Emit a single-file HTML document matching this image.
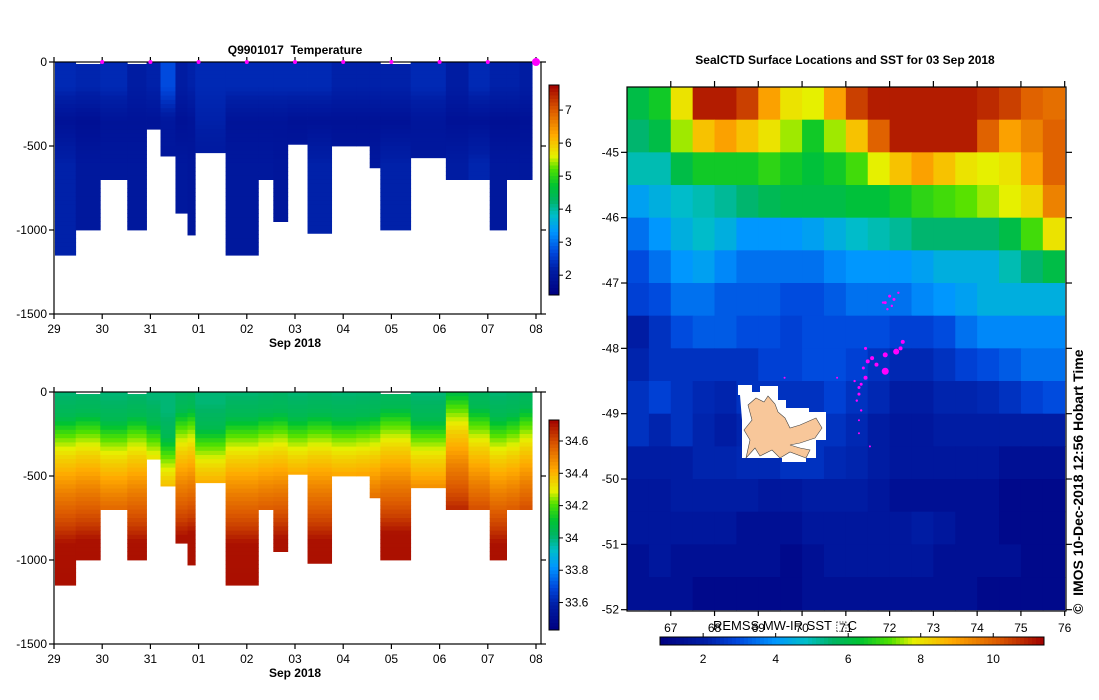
<!DOCTYPE html>
<html><head><meta charset="utf-8">
<style>
html,body{margin:0;padding:0;background:#fff;}
svg{display:block;font-family:"Liberation Sans",sans-serif;}
text{white-space:pre;}
</style></head>
<body>
<svg id="root" width="1099" height="700" viewBox="0 0 1099 700">
<rect width="1099" height="700" fill="#fff"/>
</svg>
<script>
// ---------- data ----------
const dayLabels = ["29","30","31","01","02","03","04","05","06","07","08"];
const colEdges = [0.02,0.45,0.96,1.52,1.92,2.21,2.52,2.77,2.93,3.56,4.24,4.55,4.85,5.26,5.76,6.27,6.55,6.77,7.40,8.13,8.60,9.04,9.39,9.66,9.92];
const colDepth = [1150,1000,700,1000,400,560,900,1030,540,1150,700,950,490,1020,500,500,630,1000,570,700,700,1000,700,700];
const colTopGap = [0,12,0,12,0,0,0,0,0,0,0,0,0,0,0,0,0,12,0,0,0,0,0,0];
const tempSurf = [2.3,2.25,2.3,2.1,2.2,2.7,2.1,2.2,2.3,2.3,2.3,2.3,2.3,2.3,2.2,2.2,2.2,2.2,2.3,2.1,2.3,2.2,2.2,2.1];
const tempMin = [1.85,1.8,1.9,1.9,1.9,2.0,1.85,1.9,2.2,1.9,1.9,1.9,1.85,1.85,1.85,1.85,1.85,1.85,1.95,1.85,1.85,1.8,1.8,1.85];
const tempDeep = [2.2,2.0,2.0,2.0,2.0,1.95,2.0,1.95,2.0,2.0,2.0,1.95,2.0,2.2,2.0,2.0,2.0,2.2,2.0,2.1,2.25,2.0,2.0,2.0];
const salShift = [0,20,-20,10,-30,-120,40,60,-60,0,20,30,0,20,0,10,20,60,-10,160,60,0,20,60];
const tempTicks = [2,3,4,5,6,7];
const salTicks = ["33.6","33.8","34","34.2","34.4","34.6"];
const depthTicks = [0,-500,-1000,-1500];
const salProfDepth = [0,150,250,400,600,800,900,2000];
const salProfVal = [34.0,34.05,34.2,34.35,34.5,34.62,34.7,34.72];
const sstLonTicks = [67,68,69,70,71,72,73,74,75,76];
const sstLatTicks = [-45,-46,-47,-48,-49,-50,-51,-52];
const sstBarTicks = [2,4,6,8,10];
const sstGrid = [
[6,6.5,8,11,11,10.5,9,8,7.8,9,10.5,11,11,11,11,11,10.8,10.5,10,9.8],
[5.5,6,7.5,8.5,9,8.5,8,7.5,6.5,7.5,8.5,10,11,11,11,11,10,9,9.5,10],
[5,5,6,6.5,6.5,6.5,6.8,6.5,6.2,6.5,7,7.8,8.5,9,8.5,8,7.8,8,9,10],
[4.2,4.5,4.8,5,5.2,5.5,5.8,6,6,6,6.2,6.2,6.5,6.8,7,7.2,7.5,7.8,8.2,9.5],
[3.5,4,4.5,4.8,4.5,4,4,4,4.2,4.5,4.8,5,5.2,5.5,5.5,5.5,5.5,6,7,8],
[3,3.5,4,4.2,3.8,3.5,3.5,3.5,3.5,3.8,4,4,4,4.2,4.5,4.5,4.5,5,5.5,6],
[2.8,3,3.5,3.5,3.2,3.2,3.2,3,3,3.2,3.5,3.5,3.5,3.8,4,4.2,4.5,4.5,4.5,4.5],
[2,2.5,3,3.2,3.2,3,3,2.8,3,3,3,3,2.8,2.8,3,3.5,3.8,3.8,3.8,3.8],
[2.2,2.5,2.5,2.5,2.5,2.5,2.8,2.8,3,3,2.8,2.5,2.3,2.3,2.5,2.8,3,3.2,3.5,3.5],
[2.5,2.8,2.5,2.3,2.2,2.5,2.5,2.5,2.5,2.8,2.5,2.3,2,2,2.2,2.2,2.3,2.5,2.8,3],
[2.5,2.2,2.5,2.2,2,2.2,2.3,2.3,2.5,2.5,2.3,2,1.8,1.8,2,2,2,2,2,2],
[2,2,2,2.2,2.2,2.3,2.3,2.5,2.5,2.3,2.2,2,1.8,1.8,1.8,1.8,1.8,1.5,1.5,1.5],
[1.8,1.8,2,2,2,2,1.8,1.8,2,2,2,1.8,1.5,1.5,1.5,1.5,1.5,1.2,1.2,1.2],
[1.8,1.8,1.8,1.8,1.8,1.5,1.5,1.5,1.8,1.8,1.8,1.8,1.8,2,1.8,1.5,1.5,1.2,1.2,1.2],
[1.5,1.8,1.5,1.5,1.5,1.5,1.5,1.2,1.5,1.8,1.8,1.8,1.8,1.8,1.5,1.5,1.5,1.5,1.2,1.2],
[1.5,1.5,1.5,1.2,1.2,1.2,1.2,1.2,1.5,1.5,1.5,1.5,1.5,1.5,1.5,1.5,1.2,1.2,1.2,1.2]];
const sealLon = [71.9,72.0,72.1,72.2,72.05,71.95,71.85,72.3,72.25,72.15,71.9,71.6,71.5,71.4,71.45,71.35,71.3,71.3,71.25,71.35,71.45,71.2,71.7,71.9,70.8,69.6,71.3,71.3,71.55];
const sealLat = [-47.3,-47.2,-47.25,-47.15,-47.35,-47.4,-47.3,-47.9,-48.0,-48.05,-48.1,-48.15,-48.2,-48.3,-48.45,-48.55,-48.6,-48.7,-48.8,-48.95,-48.0,-48.5,-48.25,-48.35,-48.45,-48.45,-49.1,-49.3,-49.5];
const sealSize = [1.5,1.5,1.5,1.2,1.2,1.2,1.2,2,2,3,2.5,2,2,1.5,2,1.5,1.5,1.5,1.2,1.2,1.5,1.2,2,3.5,1,1,1,1,1];

// ---------- helpers ----------
const NS="http://www.w3.org/2000/svg";
const root=document.getElementById('root');
function mk(tag,attrs,parent){const e=document.createElementNS(NS,tag);for(const k in attrs)e.setAttribute(k,attrs[k]);(parent||root).appendChild(e);return e;}
const stops=[[0,[0,0,128]],[0.12,[0,30,165]],[0.2,[0,70,220]],[0.3,[0,150,255]],[0.38,[0,190,200]],[0.45,[0,180,100]],[0.52,[0,195,50]],[0.6,[80,225,0]],[0.66,[230,240,0]],[0.76,[255,170,0]],[0.88,[220,90,0]],[1,[160,0,0]]];
function cmap(t){t=Math.max(0,Math.min(1,t));for(let i=1;i<stops.length;i++){if(t<=stops[i][0]){const a=stops[i-1],b=stops[i];const f=(t-a[0])/(b[0]-a[0]);const c=a[1].map((v,j)=>Math.round(v+(b[1][j]-v)*f));return `rgb(${c[0]},${c[1]},${c[2]})`;}}return 'rgb(160,0,0)';}
function interp(xs,ys,x){for(let i=1;i<xs.length;i++){if(x<=xs[i]){const f=(x-xs[i-1])/(xs[i]-xs[i-1]);return ys[i-1]+(ys[i]-ys[i-1])*f;}}return ys[ys.length-1];}
function txt(x,y,s,attrs,name){const e=mk('text',Object.assign({x:x,y:y,'font-size':12,fill:'#000'},attrs||{}));e.textContent=s;return e;}

// ---------- depth section charts ----------
function section(y0,valueFn,vmin,vmax,name,barTop,barBot,ticksVals,ticksLbl,markers){
  const X0=54,X1=536,RB=541,Y1=y0+252;
  const xs=d=>X0+(X1-X0)*d/10;
  const ys=z=>y0+(Y1-y0)*z/1500;
  const g=mk('g',{});
  for(let c=0;c<colDepth.length;c++){
    for(let z=0;z<colDepth[c];z+=25){
      const zt=Math.max(z,colTopGap[c]);const zb=Math.min(z+25,colDepth[c]);
      const v=valueFn(c,z+12);
      const r=mk('rect',{x:xs(colEdges[c]),y:ys(zt),width:xs(colEdges[c+1])-xs(colEdges[c])+0.4,height:ys(zb)-ys(zt)+0.4,fill:cmap((v-vmin)/(vmax-vmin))},g);
      
    }
  }
  const ax=mk('g',{stroke:'#000','stroke-width':1.2,fill:'none'});
  mk('rect',{x:X0,y:y0,width:RB-X0,height:Y1-y0},ax);
  depthTicks.forEach(t=>{const yy=ys(-t);mk('line',{x1:X0-5,x2:X0,y1:yy,y2:yy},ax);mk('line',{x1:RB,x2:RB+5,y1:yy,y2:yy},ax);
    txt(X0-7,yy+4,String(t),{'text-anchor':'end'},'y-tick-label');});
  dayLabels.forEach((l,i)=>{const xx=xs(i);mk('line',{x1:xx,x2:xx,y1:Y1,y2:Y1+5},ax);mk('line',{x1:xx,x2:xx,y1:y0-5,y2:y0},ax);
    txt(xx,Y1+19,l,{'text-anchor':'middle'},'x-tick-label');});
  txt(295,Y1+33,'Sep 2018',{'text-anchor':'middle','font-weight':'bold'},'x-axis-title');
  if(markers){dayLabels.forEach((l,i)=>{if(i==0)return;const m=mk('circle',{cx:xs(i),cy:y0,r:i==10?4:2,fill:'#ff00ff'});});}
  const cb=mk('g',{});
  const n=60;for(let i=0;i<n;i++){mk('rect',{x:549,y:barTop+(barBot-barTop)*i/n,width:10,height:(barBot-barTop)/n+0.5,fill:cmap(1-(i+0.5)/n)},cb);}
  mk('rect',{x:549,y:barTop,width:10,height:barBot-barTop,fill:'none',stroke:'#000'},cb);
  ticksVals.forEach((v,i)=>{const yy=barBot-(barBot-barTop)*(v-vmin)/(vmax-vmin);mk('line',{x1:559,x2:563,y1:yy,y2:yy,stroke:'#000'},cb);txt(565,yy+4,ticksLbl[i],{},'colorbar-tick-label');});
}
function tempAt(c,z){return z<150?tempSurf[c]:(z<350?interp([150,350],[tempSurf[c],tempMin[c]],z):interp([350,600],[tempMin[c],tempDeep[c]],Math.min(z,600)));}
function salAt(c,z){return interp(salProfDepth,salProfVal,Math.max(0,z+salShift[c]));}
txt(295,54,'Q9901017  Temperature',{'text-anchor':'middle','font-weight':'bold'},'temperature-title');
section(62,tempAt,1.4,7.76,'temperature-section',85,295,tempTicks,tempTicks.map(String),true);
section(392,salAt,33.43,34.73,'salinity-section',420,630,salTicks.map(Number),salTicks,false);

// ---------- SST map ----------
const MX0=627,MX1=1066,MY0=87,MY1=611;
const lonX=l=>MX0+(l-66)*(MX1-MX0)/10.03;
const latY=l=>MY0+(-44-l)*(MY1-MY0)/8.02;
const sst=mk('g',{});
const smin=0.81,smax=11.4;
for(let r=0;r<sstGrid.length;r++)for(let c=0;c<sstGrid[r].length;c++){
  const lo=66+c*0.5,la=-44-r*0.5;
  const e=mk('rect',{x:lonX(lo),y:latY(la),width:lonX(lo+0.5)-lonX(lo)+0.5,height:latY(la-0.5)-latY(la)+0.5,fill:cmap((sstGrid[r][c]-smin)/(smax-smin))},sst);
  
}
const isl=mk('polygon',{points:'738,385 752,385 752,392 760,392 760,386 778,386 778,400 786,400 786,408 809,408 809,412 826,412 826,440 816,440 816,458 806,458 806,462 782,462 782,458 742,458 742,420 740,395 738,395',fill:'#fff'});

const land=mk('polygon',{points:'746,458 750,440 744,430 752,420 748,405 756,398 764,402 768,396 775,404 778,412 785,418 790,428 800,425 816,418 822,428 815,438 800,443 790,445 800,448 810,450 806,458 790,452 780,458 772,450 760,456 755,448',fill:'#f8c79a',stroke:'#444','stroke-width':0.6});

sealLon.forEach((lo,i)=>{const d=mk('circle',{cx:lonX(lo),cy:latY(sealLat[i]),r:sealSize[i],fill:'#ff00ff'},sst);});
const max=mk('g',{stroke:'#000','stroke-width':1.2,fill:'none'});
mk('rect',{x:MX0,y:MY0,width:MX1-MX0,height:MY1-MY0},max);
sstLatTicks.forEach(t=>{const yy=latY(t);mk('line',{x1:MX0-6,x2:MX0,y1:yy,y2:yy},max);mk('line',{x1:MX1,x2:MX1+6,y1:yy,y2:yy},max);txt(MX0-8,yy+4,String(t),{'text-anchor':'end'},'lat-tick-label');});
sstLonTicks.forEach(t=>{const xx=lonX(t);mk('line',{x1:xx,x2:xx,y1:MY1,y2:MY1+5},max);mk('line',{x1:xx,x2:xx,y1:MY0-6,y2:MY0},max);txt(xx,632,String(t),{'text-anchor':'middle'},'lon-tick-label');});
txt(845,64,'SealCTD Surface Locations and SST for 03 Sep 2018',{'text-anchor':'middle','font-weight':'bold'},'sst-map-title');
txt(785,630,'REMSS MW-IR SST \u2B1AC',{'text-anchor':'middle','font-size':13},'sst-colorbar-title');
const scb=mk('g',{});
for(let i=0;i<96;i++){mk('rect',{x:660+384*i/96,y:637,width:4.5,height:8,fill:cmap((i+0.5)/96)},scb);}
mk('rect',{x:660,y:637,width:384,height:8,fill:'none',stroke:'#000'},scb);
sstBarTicks.forEach(v=>{const xx=660+384*(v-smin)/(smax-smin);mk('line',{x1:xx,x2:xx,y1:633,y2:637,stroke:'#000'},scb);txt(xx,663,String(v),{'text-anchor':'middle'},'sst-colorbar-tick');});
txt(0,0,'\u00A9  IMOS 10-Dec-2018 12:56 Hobart Time',{'font-size':14,'font-weight':'bold',transform:'translate(1083,614) rotate(-90)'},'credit-text');
</script>
</body></html>
